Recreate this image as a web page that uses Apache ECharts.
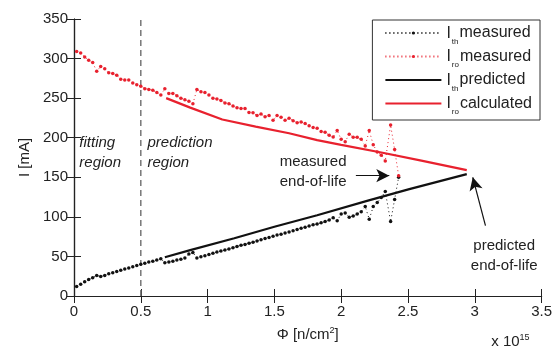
<!DOCTYPE html>
<html>
<head>
<meta charset="utf-8">
<script src="https://cdn.jsdelivr.net/npm/echarts@6/dist/echarts.min.js"></script>
<style>
  html, body { margin: 0; padding: 0; background: #fff; }
  #chart { width: 555px; height: 351px; }
</style>
</head>
<body>
<div id="chart"></div>
<script>
// fluence (x 10^15 n/cm^2) of the measurements
const phiMeasured = [
  0.02, 0.05, 0.08, 0.11, 0.14, 0.17, 0.20, 0.23, 0.26, 0.29,
  0.32, 0.35, 0.38, 0.41, 0.44, 0.47, 0.50, 0.53, 0.56, 0.59,
  0.62, 0.65, 0.68, 0.71, 0.74, 0.77, 0.80, 0.83, 0.86, 0.89,
  0.92, 0.95, 0.98, 1.01, 1.04, 1.07, 1.10, 1.13, 1.16, 1.19,
  1.22, 1.25, 1.28, 1.31, 1.34, 1.37, 1.40, 1.43, 1.46, 1.49,
  1.52, 1.55, 1.58, 1.61, 1.64, 1.67, 1.70, 1.73, 1.76, 1.79,
  1.82, 1.85, 1.88, 1.91, 1.94, 1.97, 2.00, 2.03, 2.06, 2.09,
  2.12, 2.15, 2.18, 2.21, 2.24, 2.27, 2.30, 2.33, 2.37, 2.40,
  2.43
];
const ithMeasured = [
  12, 15, 18, 21, 23, 26, 24.5, 26, 28, 29.5,
  31, 32.5, 34, 35.5, 37, 38.5, 40, 41.5, 43, 44,
  45.5, 47, 42, 43, 44, 45.5, 46.5, 48, 53, 55,
  48, 49.5, 51, 52.5, 54, 55.5, 57, 58, 59.5, 61,
  62.5, 64, 65, 66.5, 68, 69.5, 71, 72.5, 74, 75.5,
  77, 78, 79.5, 81, 82.5, 84, 85.5, 87, 88.5, 90,
  91, 92.5, 94, 96, 99, 95, 103.5, 105, 99.5, 101,
  103.5, 106.5, 113, 97, 113, 118, 124.5, 132, 94, 122,
  150
];
const iroMeasured = [
  309, 307, 302, 298, 295, 284, 290, 287, 282, 281,
  279, 274, 273, 273, 269, 267, 265, 262, 261, 260,
  257, 254, 262, 256, 256, 253, 250, 248, 246, 243,
  261, 258, 257, 254, 250, 249, 247, 244, 243, 240,
  238, 237, 237, 232, 231.5, 228, 230, 226.5, 228, 222,
  228, 226, 222, 224.5, 221.5, 219, 220, 218, 215, 213,
  212, 208, 207, 203, 201, 209, 198, 195, 204.5, 200.5,
  200.5, 198, 189.5, 209, 191, 182, 178, 170.5, 216, 185,
  152
];
// model curves
const phiPredicted = [0.68, 0.87, 1.2, 1.5, 1.82, 2.2, 2.51, 2.94];
const ithPredicted = [49, 58, 73, 87.5, 102, 120.5, 135, 154];
const phiCalculated = [0.69, 0.87, 1.11, 1.36, 1.61, 1.82, 2.0, 2.31, 2.6, 2.94];
const iroCalculated = [250, 238, 223, 214, 205.6, 197, 191, 181, 171, 159];
const boundaryPhi = 0.5;

const xTicks = { min: 0, max: 3.5, interval: 0.5 };
const yTicks = { min: 0, max: 350, interval: 50 };

const font = 'Liberation Sans, Arial, sans-serif';
const red = '#e8212e';
const black = '#111';

const zip = (xs, ys) => xs.map((x, i) => [x, ys[i]]);

const chart = echarts.init(document.getElementById('chart'));

const axisBase = {
  type: 'value',
  axisLine: { show: true, lineStyle: { color: '#222', width: 1.2 } },
  axisTick: { show: true, inside: true, length: 7, lineStyle: { color: '#222' } },
  splitLine: { show: false },
};

const hidden = { opacity: 0 };

const option = {
  animation: false,
  textStyle: { fontFamily: font },
  grid: { left: 74, right: 12, top: 19, bottom: 55 },
  legend: {
    orient: 'vertical',
    right: 15,
    top: 20,
    backgroundColor: '#fff',
    borderColor: '#333',
    borderWidth: 1,
    borderRadius: 0,
    padding: [5, 8, 4, 12],
    itemWidth: 56,
    itemHeight: 4,
    itemGap: 3,
    data: [
      { name: 'ith_m' },
      { name: 'iro_m' },
      { name: 'ith_p', itemStyle: hidden },
      { name: 'iro_c', itemStyle: hidden },
    ],
    formatter: (name) => ({
      ith_m: '{i|I}{s|th}{t|measured}',
      iro_m: '{i|I}{s|ro}{t|measured}',
      ith_p: '{i|I}{s|th}{t|predicted}',
      iro_c: '{i|I}{s|ro}{t|calculated}',
    }[name]),
    textStyle: {
      fontFamily: font,
      rich: {
        i: { fontSize: 16, lineHeight: 17, color: '#222', fontFamily: font, verticalAlign: 'bottom' },
        s: { fontSize: 8, color: '#222', fontFamily: font, verticalAlign: 'bottom', padding: [0, 1, -4, 1] },
        t: { fontSize: 16, lineHeight: 17, color: '#222', fontFamily: font },
      },
    },
  },
  xAxis: [
    {
      ...axisBase,
      ...xTicks,
      name: '{a|Φ [n/cm}{b|2}{a|]}',
      nameLocation: 'middle',
      nameGap: 30,
      nameTextStyle: {
        rich: {
          a: { fontSize: 15, color: '#222', fontFamily: font },
          b: { fontSize: 9, color: '#222', fontFamily: font, verticalAlign: 'top', padding: [0, 0, 8, 0] },
        },
      },
      axisLabel: { fontSize: 15, color: '#222', margin: 8, fontFamily: font },
    },
    {
      ...axisBase,
      ...xTicks,
      position: 'top',
      axisLabel: { show: false },
    },
  ],
  yAxis: [
    {
      ...axisBase,
      ...yTicks,
      name: 'I [mA]',
      nameLocation: 'middle',
      nameGap: 42,
      nameRotate: 90,
      nameTextStyle: { fontSize: 15, color: '#222', fontFamily: font },
      axisLabel: { fontSize: 15, color: '#222', margin: 6, fontFamily: font },
    },
    {
      ...axisBase,
      ...yTicks,
      position: 'right',
      axisLabel: { show: false },
    },
  ],
  series: [
    {
      name: 'boundary',
      type: 'line',
      data: [[boundaryPhi, yTicks.min], [boundaryPhi, yTicks.max]],
      symbol: 'none',
      lineStyle: { color: '#777', width: 1.5, type: [6, 4] },
      silent: true,
      z: 1,
    },
    {
      name: 'ith_m',
      type: 'line',
      data: zip(phiMeasured, ithMeasured),
      symbol: 'circle',
      symbolSize: 3.5,
      showAllSymbol: true,
      itemStyle: { color: black },
      lineStyle: { color: black, width: 1, type: [1, 3] },
      z: 3,
    },
    {
      name: 'iro_m',
      type: 'line',
      data: zip(phiMeasured, iroMeasured),
      symbol: 'circle',
      symbolSize: 3.5,
      showAllSymbol: true,
      itemStyle: { color: red },
      lineStyle: { color: red, width: 1, type: [1, 3] },
      z: 3,
    },
    {
      name: 'ith_p',
      type: 'line',
      data: zip(phiPredicted, ithPredicted),
      symbol: 'none',
      itemStyle: { color: black },
      lineStyle: { color: black, width: 2.2 },
      z: 2,
    },
    {
      name: 'iro_c',
      type: 'line',
      data: zip(phiCalculated, iroCalculated),
      symbol: 'none',
      itemStyle: { color: red },
      lineStyle: { color: red, width: 2.2 },
      z: 2,
      markLine: {
        silent: true,
        symbol: ['none', 'arrow'],
        symbolSize: [10, 13],
        label: { show: false },
        lineStyle: { color: '#111', width: 1.2, type: 'solid' },
        data: [
          [{ coord: [2.11, 152] }, { coord: [2.36, 152] }],
          [{ coord: [3.08, 89] }, { coord: [2.985, 150] }],
        ],
      },
    },
  ],
};

chart.setOption(option);

// annotations placed from data coordinates
const notes = [
  { at: [0.04, 181], text: 'fitting\nregion', italic: true, align: 'left' },
  { at: [0.55, 181], text: 'prediction\nregion', italic: true, align: 'left' },
  { at: [1.79, 157], text: 'measured\nend-of-life', italic: false, align: 'center' },
  { at: [3.22, 51], text: 'predicted\nend-of-life', italic: false, align: 'center' },
];

const graphic = notes.map((n) => {
  const [px, py] = chart.convertToPixel({ gridIndex: 0 }, n.at);
  return {
    type: 'text',
    x: px,
    y: py,
    style: {
      text: n.text,
      fontFamily: font,
      fontSize: 15,
      fontStyle: n.italic ? 'italic' : 'normal',
      fill: '#222',
      align: n.align,
      verticalAlign: 'middle',
      lineHeight: 20,
    },
  };
});

const [sx, sy] = chart.convertToPixel({ gridIndex: 0 }, [xTicks.max, yTicks.min]);
graphic.push({
  type: 'text',
  x: sx - 12,
  y: sy + 46,
  style: {
    text: '{a|x 10}{b|15}',
    align: 'right',
    verticalAlign: 'middle',
    rich: {
      a: { fontSize: 15, fill: '#222', fontFamily: font },
      b: { fontSize: 9, fill: '#222', fontFamily: font, verticalAlign: 'top', padding: [0, 0, 8, 0] },
    },
  },
});

chart.setOption({ graphic });
</script>
</body>
</html>
